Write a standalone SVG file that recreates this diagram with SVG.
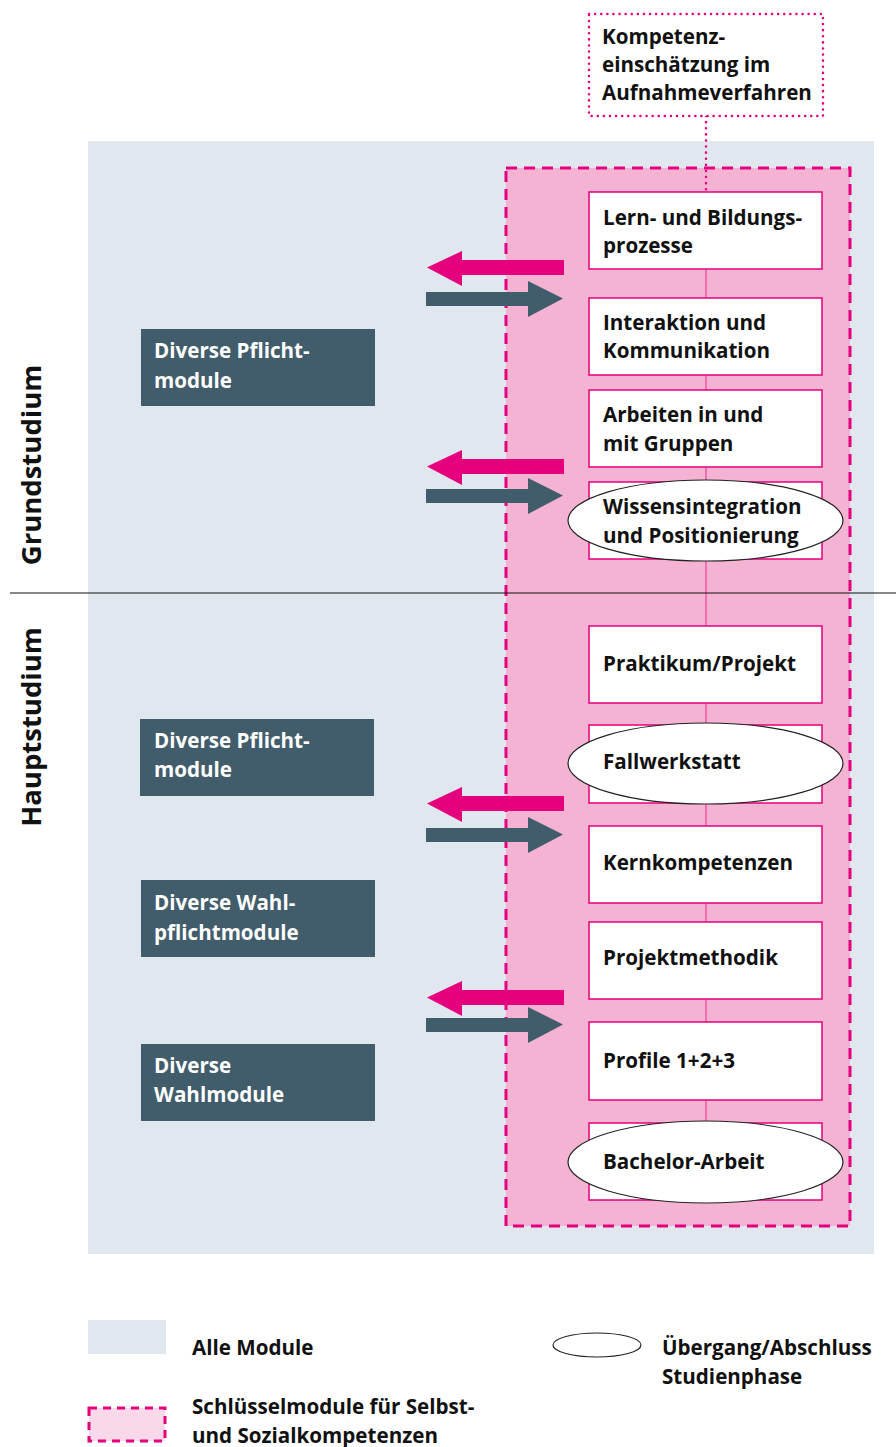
<svg xmlns="http://www.w3.org/2000/svg" width="896" height="1447" viewBox="0 0 896 1447">
<defs>
<style>
.t{font-family:"Open Sans","Noto Sans","Liberation Sans",sans-serif;font-weight:700;font-size:20.6px;fill:#111}
.w{fill:#fff}
.box{fill:#fff;stroke:#e5007e;stroke-width:1.5}
.dark{fill:#415c6a}
.ell{fill:#fff;stroke:#222;stroke-width:1.2}
.pa{fill:#e5007e}
.da{fill:#415c6a}
.side{font-size:27.5px}
</style>
</defs>
<rect x="0" y="0" width="896" height="1447" fill="#fff"/>
<g id="background">
<rect x="88" y="141" width="786" height="1113" fill="#e0e7ef"/>
<rect x="506" y="168" width="344" height="1058" fill="#f4b3d2" stroke="#e5007e" stroke-width="3" stroke-dasharray="11,7"/>
</g>
<g id="connectors">
<line x1="706" y1="116" x2="706" y2="192" stroke="#e5007e" stroke-width="2.5" stroke-dasharray="0.1,6" stroke-linecap="round"/>
<line x1="706" y1="269" x2="706" y2="1123" stroke="#ec5aa2" stroke-width="1.5"/>
<line x1="10" y1="593" x2="896" y2="593" stroke="#111" stroke-width="1.2"/>
<g id="arrows">
<polygon class="pa" points="564,260 462,260 462,251 427,267.5 462,286 462,275 564,275"/>
<polygon class="da" points="426,292 528,292 528,281 563,298.5 528,317 528,306 426,306"/>
<polygon class="pa" points="564,459 462,459 462,450 427,466.5 462,485 462,474 564,474"/>
<polygon class="da" points="426,489 528,489 528,478 563,495.5 528,514 528,503 426,503"/>
<polygon class="pa" points="564,796 462,796 462,787 427,803.5 462,822 462,811 564,811"/>
<polygon class="da" points="426,828 528,828 528,817 563,834.5 528,853 528,842 426,842"/>
<polygon class="pa" points="564,990 462,990 462,981 427,997.5 462,1016 462,1005 564,1005"/>
<polygon class="da" points="426,1018 528,1018 528,1007 563,1024.5 528,1043 528,1032 426,1032"/>
</g>
</g>
<g id="kompetenz">
<rect x="589" y="14" width="234" height="102" fill="#fff" stroke="#e5007e" stroke-width="2.5" stroke-dasharray="0.1,6" stroke-linecap="round"/>
<text class="t" x="602" y="44">Kompetenz-</text>
<text class="t" x="602" y="72">einschätzung im</text>
<text class="t" x="602" y="100">Aufnahmeverfahren</text>
</g>
<g id="n1"><rect class="box" x="589" y="192" width="233" height="77"/><text class="t" x="603" y="225">Lern- und Bildungs-</text><text class="t" x="603" y="253">prozesse</text></g>
<g id="n2"><rect class="box" x="589" y="298" width="233" height="77"/><text class="t" x="603" y="330">Interaktion und</text><text class="t" x="603" y="358">Kommunikation</text></g>
<g id="n3"><rect class="box" x="589" y="390" width="233" height="77"/><text class="t" x="603" y="422">Arbeiten in und</text><text class="t" x="603" y="451">mit Gruppen</text></g>
<g id="n4"><rect class="box" x="589" y="482" width="233" height="77"/><ellipse class="ell" cx="705.5" cy="520.5" rx="137.5" ry="40.5"/><text class="t" x="603" y="514">Wissensintegration</text><text class="t" x="603" y="543">und Positionierung</text></g>
<g id="n5"><rect class="box" x="589" y="626" width="233" height="77"/><text class="t" x="603" y="671">Praktikum/Projekt</text></g>
<g id="n6"><rect class="box" x="589" y="725" width="233" height="78"/><ellipse class="ell" cx="705.5" cy="763.5" rx="137.5" ry="40.5"/><text class="t" x="603" y="769">Fallwerkstatt</text></g>
<g id="n7"><rect class="box" x="589" y="826" width="233" height="77"/><text class="t" x="603" y="870">Kernkompetenzen</text></g>
<g id="n8"><rect class="box" x="589" y="922" width="233" height="77"/><text class="t" x="603" y="965">Projektmethodik</text></g>
<g id="n9"><rect class="box" x="589" y="1022" width="233" height="78"/><text class="t" x="603" y="1068">Profile 1+2+3</text></g>
<g id="n10"><rect class="box" x="589" y="1123" width="233" height="77"/><ellipse class="ell" cx="705.5" cy="1162" rx="137.5" ry="41"/><text class="t" x="603" y="1169">Bachelor-Arbeit</text></g>
<g id="d1"><rect class="dark" x="141" y="329" width="234" height="77"/><text class="t w" x="154" y="358">Diverse Pflicht-</text><text class="t w" x="154" y="388">module</text></g>
<g id="d2"><rect class="dark" x="140" y="719" width="234" height="77"/><text class="t w" x="154" y="748">Diverse Pflicht-</text><text class="t w" x="154" y="777">module</text></g>
<g id="d3"><rect class="dark" x="141" y="880" width="234" height="77"/><text class="t w" x="154" y="910">Diverse Wahl-</text><text class="t w" x="154" y="940">pflichtmodule</text></g>
<g id="d4"><rect class="dark" x="141" y="1044" width="234" height="77"/><text class="t w" x="154" y="1073">Diverse</text><text class="t w" x="154" y="1102">Wahlmodule</text></g>
<g id="labels">
<text class="t side" transform="translate(41,465) rotate(-90)" text-anchor="middle">Grundstudium</text>
<text class="t side" transform="translate(41,727) rotate(-90)" text-anchor="middle">Hauptstudium</text>
</g>
<g id="legend">
<rect x="88" y="1320" width="78" height="34" fill="#e0e7ef"/>
<text class="t" x="192" y="1355">Alle Module</text>
<ellipse cx="597" cy="1345" rx="44" ry="12" fill="#fff" stroke="#222" stroke-width="1.2"/>
<text class="t" x="662" y="1355">Übergang/Abschluss</text>
<text class="t" x="662" y="1384">Studienphase</text>
<rect x="89" y="1408" width="76" height="33" fill="#f9d9e9" stroke="#e5007e" stroke-width="3" stroke-dasharray="8,6"/>
<text class="t" x="192" y="1414">Schlüsselmodule für Selbst-</text>
<text class="t" x="192" y="1443">und Sozialkompetenzen</text>
</g>
</svg>
